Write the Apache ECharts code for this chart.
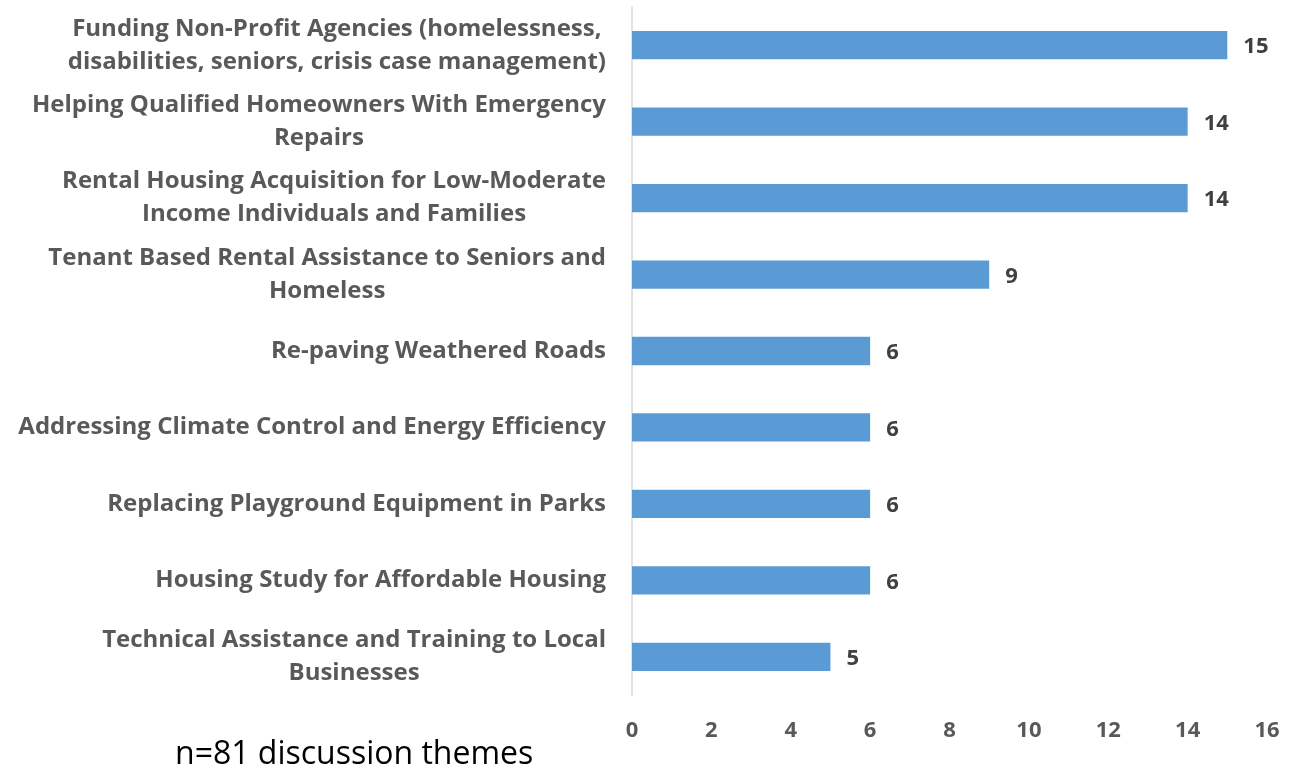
<!DOCTYPE html>
<html>
<head>
<meta charset="utf-8">
<script src="https://cdn.jsdelivr.net/npm/echarts@6/dist/echarts.min.js"></script>
<style>
html,body{margin:0;padding:0;background:#fff;}
#chart{width:1298px;height:769px;}
</style>
</head>
<body>
<div id="chart"></div>
<script>
const categories = [
  "Funding Non-Profit Agencies (homelessness,\ndisabilities, seniors, crisis case management)",
  "Helping Qualified Homeowners With Emergency\nRepairs",
  "Rental Housing Acquisition for Low-Moderate\nIncome Individuals and Families",
  "Tenant Based Rental Assistance to Seniors and\nHomeless",
  "Re-paving Weathered Roads",
  "Addressing Climate Control and Energy Efficiency",
  "Replacing Playground Equipment in Parks",
  "Housing Study for Affordable Housing",
  "Technical Assistance and Training to Local\nBusinesses"
];
const values = [15, 14, 14, 9, 6, 6, 6, 6, 5];
const footnote = "n=81 discussion themes";

const chart = echarts.init(document.getElementById('chart'));
chart.setOption({
  animation: false,
  backgroundColor: '#fff',
  grid: { left: 632, right: 31, top: 7, bottom: 74, containLabel: false },
  xAxis: {
    type: 'value', min: 0, max: 16, interval: 2,
    axisLine: { show: false }, axisTick: { show: false }, splitLine: { show: false },
    axisLabel: { color: '#595959', fontFamily: 'Open Sans', fontWeight: 'bold', fontSize: 22, margin: 25 }
  },
  yAxis: {
    type: 'category', inverse: true, data: categories,
    axisLine: { show: true, lineStyle: { color: '#d9d9d9', width: 1.5 } },
    axisTick: { show: false },
    axisLabel: {
      margin: 26, align: 'right',
      formatter: function (v) { return v.split('\n').map(s => '{a|' + s + '}').join('\n'); },
      rich: { a: { color: '#595959', fontFamily: 'Open Sans', fontWeight: 'bold', fontSize: 24, lineHeight: 33, align: 'center' } }
    }
  },
  series: [{
    type: 'bar', data: values, barWidth: '37%',
    itemStyle: { color: '#5b9bd5' },
    label: { show: true, position: 'right', distance: 16, color: '#404040', fontFamily: 'Open Sans', fontWeight: 'bold', fontSize: 22, offset: [0, 2] }
  }],
  graphic: [{
    type: 'text', left: 175, top: 739,
    style: { text: footnote, fill: '#000', font: '32px "Open Sans"' }
  }]
});
</script>
</body>
</html>
